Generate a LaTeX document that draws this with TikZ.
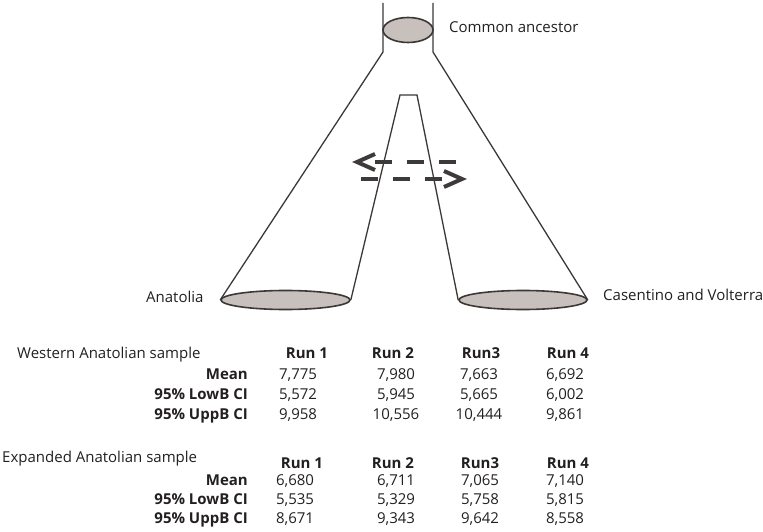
\documentclass[tikz,border=0pt]{standalone}
\usepackage{fontspec}
\setmainfont{Open Sans}
\usetikzlibrary{shapes.geometric,calc}
\definecolor{ink}{RGB}{35,31,32}
\definecolor{lncol}{RGB}{60,56,54}
\definecolor{ellfill}{RGB}{200,192,189}
\definecolor{arrcol}{RGB}{62,58,57}
\begin{document}
\begin{tikzpicture}[x=1pt,y=-1pt,
  ln/.style={draw=lncol,line width=1.3pt},
  ell/.style={ellipse,draw=lncol,line width=1.6pt,fill=ellfill,inner sep=0pt},
  lbl/.style={font=\fontsize{15}{17}\selectfont,text=ink,inner sep=0pt},
  hd/.style={font=\fontsize{15}{17}\selectfont\bfseries,text=ink,inner sep=0pt},
  dsh/.style={draw=arrcol,line width=4pt,dash pattern=on 17pt off 15pt},
  chev/.style={draw=arrcol,line width=4pt,miter limit=10},
]
\useasboundingbox (0,0) rectangle (763,532);
% shapes
\node[ell,minimum width=50pt,minimum height=25pt] (anc) at (408,30) {};
\node[ell,minimum width=129pt,minimum height=19pt] (anat) at (285.5,300) {};
\node[ell,minimum width=128pt,minimum height=19pt] (cas) at (523,300) {};
\coordinate (tl0) at (383,3);
\coordinate (tl1) at (383,52);
\coordinate (tr0) at (433,3);
\coordinate (tr1) at (433,52);
\coordinate (il) at (400,95);
\coordinate (ir) at (417,95);
\draw[ln] (tl0) -- (tl1) -- (anat.west);
\draw[ln] (tr0) -- (tr1) -- (cas.east);
\draw[ln] (anat.east) -- (il) -- (ir) -- (cas.west);
% dashed arrows
\coordinate (a1s) at (372,162);
\coordinate (a1e) at (457,162);
\coordinate (a1t) at (357,162);
\draw[dsh,dash phase=-3pt] (a1s) -- (a1e);
\draw[chev] ($(a1t)+(18,-8)$) -- (a1t) -- ($(a1t)+(18,8)$);
\coordinate (a2s) at (361,179);
\coordinate (a2e) at (448,179);
\coordinate (a2t) at (462,179);
\draw[dsh] (a2s) -- (a2e);
\draw[chev] ($(a2t)+(-18,-8)$) -- (a2t) -- ($(a2t)+(-18,8)$);
% labels
\node[lbl,anchor=base west] (lanc) at (449,33) {Common ancestor};
\node[lbl,anchor=base west] (lanat) at (146,302) {Anatolia};
\node[lbl,anchor=base west] (lcas) at (603,300) {Casentino and Volterra};
% table 1
\node[lbl,anchor=base west] (t1) at (17,358) {Western Anatolian sample};
\node[hd,anchor=base] (t1r1) at (307,358) {Run 1};
\node[hd,anchor=base] (t1r2) at (393,358) {Run 2};
\node[hd,anchor=base] (t1r3) at (481,358) {Run3};
\node[hd,anchor=base] (t1r4) at (568,358) {Run 4};
\node[hd,anchor=base east] (t1m) at (248,379) {Mean};
\node[hd,anchor=base east] (t1l) at (248,399) {95\% LowB CI};
\node[hd,anchor=base east] (t1u) at (248,419) {95\% UppB CI};
\node[lbl,anchor=base] (t1m1) at (298,379) {7,775};
\node[lbl,anchor=base] (t1m2) at (396,379) {7,980};
\node[lbl,anchor=base] (t1m3) at (479,379) {7,663};
\node[lbl,anchor=base] (t1m4) at (565,379) {6,692};
\node[lbl,anchor=base] (t1l1) at (298,399) {5,572};
\node[lbl,anchor=base] (t1l2) at (396,399) {5,945};
\node[lbl,anchor=base] (t1l3) at (479,399) {5,665};
\node[lbl,anchor=base] (t1l4) at (565,399) {6,002};
\node[lbl,anchor=base] (t1u1) at (298,419) {9,958};
\node[lbl,anchor=base] (t1u2) at (396,419) {10,556};
\node[lbl,anchor=base] (t1u3) at (479,419) {10,444};
\node[lbl,anchor=base] (t1u4) at (565,419) {9,861};
% table 2
\node[lbl,anchor=base west] (t2) at (2,462) {Expanded Anatolian sample};
\node[hd,anchor=base] (t2r1) at (302,468) {Run 1};
\node[hd,anchor=base] (t2r2) at (393,468) {Run 2};
\node[hd,anchor=base] (t2r3) at (480,468) {Run3};
\node[hd,anchor=base] (t2r4) at (568,468) {Run 4};
\node[hd,anchor=base east] (t2m) at (248,485) {Mean};
\node[hd,anchor=base east] (t2l) at (248,504) {95\% LowB CI};
\node[hd,anchor=base east] (t2u) at (248,523) {95\% UppB CI};
\node[lbl,anchor=base] (t2m1) at (295,485) {6,680};
\node[lbl,anchor=base] (t2m2) at (396,485) {6,711};
\node[lbl,anchor=base] (t2m3) at (480,485) {7,065};
\node[lbl,anchor=base] (t2m4) at (565,485) {7,140};
\node[lbl,anchor=base] (t2l1) at (295,504) {5,535};
\node[lbl,anchor=base] (t2l2) at (396,504) {5,329};
\node[lbl,anchor=base] (t2l3) at (480,504) {5,758};
\node[lbl,anchor=base] (t2l4) at (565,504) {5,815};
\node[lbl,anchor=base] (t2u1) at (295,523) {8,671};
\node[lbl,anchor=base] (t2u2) at (396,523) {9,343};
\node[lbl,anchor=base] (t2u3) at (480,523) {9,642};
\node[lbl,anchor=base] (t2u4) at (565,523) {8,558};
\end{tikzpicture}
\end{document}
